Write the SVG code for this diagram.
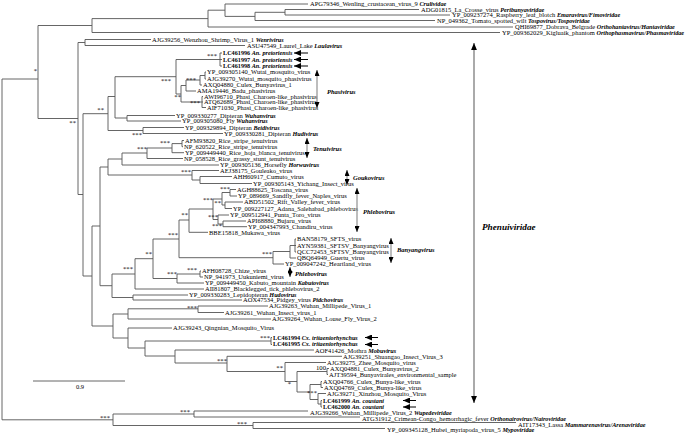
<svg xmlns="http://www.w3.org/2000/svg" width="685" height="434" viewBox="0 0 685 434">
<style>
text{font-family:"Liberation Serif","Times New Roman",serif;font-size:6.5px;fill:#000}
.gi{font-weight:bold;font-style:italic;font-size:6.2px}
.bd{font-weight:bold;font-size:6.2px}
.s{text-anchor:end;font-size:6.7px}
.b{fill:none;stroke:#555;stroke-width:0.9}
.ga{fill:none;stroke:#9a9a9a;stroke-width:1.3;marker-start:url(#ah);marker-end:url(#ah)}
.fa{fill:none;stroke:#aaa;stroke-width:2;marker-start:url(#ahb);marker-end:url(#ahb)}
.ta{fill:none;stroke:#000;stroke-width:1;marker-end:url(#tp)}
.gl{font-weight:bold;font-style:italic;font-size:6.5px}
.fl{font-weight:bold;font-style:italic;font-size:9.2px}
</style>
<defs>
<marker id="ah" viewBox="0 0 12 10" refX="12" refY="5" markerWidth="6" markerHeight="5" markerUnits="userSpaceOnUse" orient="auto-start-reverse"><path d="M0,0L12,5L0,10z" fill="#000"/></marker>
<marker id="ahb" viewBox="0 0 12 10" refX="12" refY="5" markerWidth="7" markerHeight="6" markerUnits="userSpaceOnUse" orient="auto-start-reverse"><path d="M0,0L12,5L0,10z" fill="#000"/></marker>
<marker id="tp" viewBox="0 0 14 12" refX="14" refY="6" markerWidth="7" markerHeight="6" markerUnits="userSpaceOnUse" orient="auto"><path d="M0,0L14,6L0,12z" fill="#000"/></marker>
</defs>
<g id="connectors" class="b">
<path d="M38,79H2V419.8H113"/>
<path d="M92,25.5H38V118.5H78"/>
<path d="M208,18.6H92V32.5H500"/>
<path d="M225,10.2H208V27H513"/>
<path d="M308,4H225V16.4H255"/>
<path d="M285,12.3H255V20.5H435"/>
<path d="M419,9.5H285V15H450"/>
<path d="M85,42.5H78V194.5H83"/>
<path d="M151,39.5H85V45.5H245"/>
<path d="M108,113.7H83V276H92"/>
<path d="M115,96.5H108V130.5H143"/>
<path d="M176,76.7H115V118H127"/>
<path d="M175,115.5H127V121H181"/>
<path d="M184,127.5H143V133.5H223"/>
<path d="M220,59.5H176V94H181"/>
<path d="M222,53H220V66H222M220,59.5H222"/>
<path d="M186,85.5H181V102H202"/>
<path d="M200,80H186V91H196"/>
<path d="M205,75.5H200V85H202"/>
<path d="M206,72H205V79H206"/>
<path d="M203,96.5H202V107.5H206M202,102H203"/>
<path d="M100,226H92V326H113"/>
<path d="M108,167H100V285.7H112"/>
<path d="M122,159H108V175H192"/>
<path d="M147,153H122V165H219"/>
<path d="M172,148H147V158.5H183"/>
<path d="M182,143.6H172V152.7H184"/>
<path d="M184,140.5H182V146.7H183"/>
<path d="M219,170.5H192V180H200"/>
<path d="M232,176.5H200V183.5H252"/>
<path d="M135,274H112V297.5H133"/>
<path d="M153,258.7H135V289H204"/>
<path d="M179,239H153V278.5H177"/>
<path d="M189,220H179V257.7H273"/>
<path d="M213,209H189V232.3H208"/>
<path d="M222,199H213V219.5H218"/>
<path d="M230,192.5H222V205H225"/>
<path d="M236,189.5H230V196H237"/>
<path d="M243,202H225V208.5H232"/>
<path d="M229,215H218V224H223"/>
<path d="M246,221H223V226.7H247"/>
<path d="M290,251.5H273V264H284"/>
<path d="M295,245.5H290V258H296"/>
<path d="M296,239H295V252H296M295,245.5H296"/>
<path d="M200,274H177V283H204"/>
<path d="M201,271H200V277H203"/>
<path d="M188,295H133V300H242"/>
<path d="M128,314H113V338H128"/>
<path d="M198,308.8H128V319H271"/>
<path d="M268,306H198V312.5H224"/>
<path d="M172,328H128V348H145"/>
<path d="M271,341H145V356H175"/>
<path d="M272,337.5H271V344.5H272"/>
<path d="M314,350H175V363H227"/>
<path d="M342,356.3H227V371.5H285"/>
<path d="M326,362.5H285V381.5H297"/>
<path d="M327,371.5H297V392H310"/>
<path d="M329,368.5H327V374.5H328"/>
<path d="M321,384.5H310V399.5H318"/>
<path d="M322,381.5H321V387.5H323"/>
<path d="M326,393.5H318V404H321"/>
<path d="M322,400.5H321V407H322"/>
<path d="M194,414H113V425.5H253"/>
<path d="M308,411H194V417H360"/>
<path d="M516,422.5H253V428.5H385"/>
<path d="M33,381H125"/>
</g>
<g id="support">
<text class="s" x="37" y="73.2">*</text>
<text class="s" x="76" y="125">**</text>
<text class="s" x="171" y="83">***</text>
<text class="s" x="217" y="58">***</text>
<text class="s" x="196" y="82">***</text>
<text class="s" x="181" y="99">**</text>
<text class="s" x="200" y="105">***</text>
<text class="s" x="104" y="112">**</text>
<text class="s" x="142" y="137">***</text>
<text class="s" x="147" y="151">***</text>
<text class="s" x="170" y="145">***</text>
<text class="s" x="191" y="174">***</text>
<text class="s" x="230" y="191">***</text>
<text class="s" x="213" y="202">***</text>
<text class="s" x="221" y="205">**</text>
<text class="s" x="188" y="217">**</text>
<text class="s" x="218" y="219">***</text>
<text class="s" x="222" y="228">***</text>
<text class="s" x="178" y="237">***</text>
<text class="s" x="152" y="256">**</text>
<text class="s" x="272" y="256">***</text>
<text class="s" x="197" y="272">***</text>
<text class="s" x="177" y="276">***</text>
<text class="s" x="133" y="271">***</text>
<text class="s" x="197" y="310">***</text>
<text class="s" x="270" y="340">***</text>
<text class="s" x="227" y="363">***</text>
<text class="s" x="283" y="370">**</text>
<text class="s" x="326" y="370.3">100</text>
<text class="s" x="291" y="386">*</text>
<text class="s" x="317" y="395">***</text>
<text class="s" x="190" y="414">***</text>
<text class="s" x="110" y="420">***</text>
<text class="s" x="247" y="426">***</text>
<text x="80" y="389" text-anchor="middle">0.9</text>
</g>
<g id="tips">
<g id="APG79346"><text x="310" y="6.3">APG79346_Wenling_crustacean_virus_9 <tspan class="gi">Crulividae</tspan></text></g>
<g id="ADG01815"><text x="421" y="11.8">ADG01815_La_Crosse_virus <tspan class="gi">Peribunyaviridae</tspan></text></g>
<g id="YP_009237274"><text x="452" y="17.3">YP_009237274_Raspberry_leaf_blotch <tspan class="gi">Emaravirus/Fimoviridae</tspan></text></g>
<g id="NP_049362"><text x="437" y="22.8">NP_049362_Tomato_spotted_wilt <tspan class="gi">Tospovirus/Tospoviridae</tspan></text></g>
<g id="QHI69877"><text x="515" y="29.3">QHI69877_Dobrava_Belgrade <tspan class="gi">Orthohantavirus/Hantaviridae</tspan></text></g>
<g id="YP_009362029"><text x="502" y="34.8">YP_009362029_Kigluaik_phantom <tspan class="gi">Orthophasmavirus/Phasmaviridae</tspan></text></g>
<g id="AJG39256"><text x="152" y="41.8">AJG39256_Wenzhou_Shrimp_Virus_1 <tspan class="gi">Wenrivirus</tspan></text></g>
<g id="ASU47549"><text x="247" y="47.8">ASU47549_Laurel_Lake <tspan class="gi">Laulavirus</tspan></text></g>
<g id="LC461996"><text x="223" y="55.3" class="bd">LC461996 <tspan class="gi">An. pretoriensis</tspan></text><path class="ta" d="M308,53H294"/></g>
<g id="LC461997"><text x="223" y="61.8" class="bd">LC461997 <tspan class="gi">An. pretoriensis</tspan></text><path class="ta" d="M308,59.5H294"/></g>
<g id="LC461998"><text x="223" y="68.3" class="bd">LC461998 <tspan class="gi">An. pretoriensis</tspan></text><path class="ta" d="M308,66H294"/></g>
<g id="YP_009305140"><text x="207" y="74.3">YP_009305140_Wutai_mosquito_virus</text></g>
<g id="AJG39270"><text x="207" y="81.3">AJG39270_Wutai_mosquito_phasivirus</text></g>
<g id="AXQ04880"><text x="203" y="87.3">AXQ04880_Culex_Bunyavirus_1</text></g>
<g id="AMA19446"><text x="197" y="93.3">AMA19446_Badu_phasivirus</text></g>
<g id="AWI96710"><text x="204" y="98.8">AWI96710_Phasi_Charoen-like_phasivirus</text></g>
<g id="ATQ62689"><text x="204" y="104.3">ATQ62689_Phasi_Charoen-like_phasivirus</text></g>
<g id="AIF71030"><text x="207" y="109.8">AIF71030_Phasi_Charoen-like_phasivirus</text></g>
<g id="YP_009330277"><text x="176" y="117.8">YP_009330277_Dipteran <tspan class="gi">Wuhanvirus</tspan></text></g>
<g id="YP_009305080"><text x="182" y="123.3">YP_009305080_Fly <tspan class="gi">Wuhanvirus</tspan></text></g>
<g id="YP_009329894"><text x="185" y="129.8">YP_009329894_Dipteran <tspan class="gi">Beidivirus</tspan></text></g>
<g id="YP_009330281"><text x="224" y="135.8">YP_009330281_Dipteran <tspan class="gi">Hudivirus</tspan></text></g>
<g id="AFM93820"><text x="185" y="142.8">AFM93820_Rice_stripe_tenuivirus</text></g>
<g id="NP_620522"><text x="184" y="149">NP_620522_Rice_stripe_tenuivirus</text></g>
<g id="YP_009449440"><text x="185" y="155">YP_009449440_Rice_hoja_blanca_tenuivirus</text></g>
<g id="NP_058528"><text x="184" y="160.8">NP_058528_Rice_grassy_stunt_tenuivirus</text></g>
<g id="YP_009305136"><text x="220" y="167.3">YP_009305136_Horsefly <tspan class="gi">Horwuvirus</tspan></text></g>
<g id="AEJ38175"><text x="220" y="172.8">AEJ38175_Gouleako_virus</text></g>
<g id="AHH60917"><text x="233" y="178.8">AHH60917_Cumuto_virus</text></g>
<g id="YP_009305143"><text x="253" y="185.8">YP_009305143_Yichang_Insect_virus</text></g>
<g id="AGH88625"><text x="237" y="191.8">AGH88625_Toscana_virus</text></g>
<g id="YP_089669"><text x="238" y="198.3">YP_089669_Sandfly_fever_Naples_virus</text></g>
<g id="ABD51502"><text x="244" y="204.3">ABD51502_Rift_Valley_fever_virus</text></g>
<g id="YP_009227127"><text x="233" y="210.8">YP_009227127_Adana_Salehabad_phlebovirus</text></g>
<g id="YP_009512941"><text x="230" y="217.3">YP_009512941_Punta_Toro_virus</text></g>
<g id="API68880"><text x="247" y="223.3">API68880_Bujaru_virus</text></g>
<g id="YP_004347993"><text x="248" y="228.9">YP_004347993_Chandiru_virus</text></g>
<g id="BBE15818"><text x="209" y="234.6">BBE15818_Mukawa_virus</text></g>
<g id="BAN58179"><text x="297" y="241.3">BAN58179_SFTS_virus</text></g>
<g id="AYN59381"><text x="297" y="247.8">AYN59381_SFTSV_Banyangvirus</text></g>
<g id="QCC72453"><text x="297" y="254.3">QCC72453_SFTSV_Banyangvirus</text></g>
<g id="QBQ64949"><text x="297" y="260.3">QBQ64949_Guertu_virus</text></g>
<g id="YP_009047242"><text x="285" y="266.3">YP_009047242_Heartland_virus</text></g>
<g id="AFH08728"><text x="202" y="273.3">AFH08728_Chize_virus</text></g>
<g id="NP_941973"><text x="204" y="279.3">NP_941973_Uukuniemi_virus</text></g>
<g id="YP_009449450"><text x="205" y="285.3">YP_009449450_Kabuto_mountain <tspan class="gi">Kabutovirus</tspan></text></g>
<g id="AII81807"><text x="205" y="291.3">AII81807_Blacklegged_tick_phlebovirus_2</text></g>
<g id="YP_009330283"><text x="189" y="297">YP_009330283_Lepidopteran <tspan class="gi">Hudovirus</tspan></text></g>
<g id="AOX47534"><text x="243" y="302.3">AOX47534_Pidgey_virus <tspan class="gi">Pidchovirus</tspan></text></g>
<g id="AJG39263"><text x="269" y="308.4">AJG39263_Wuhan_Millipede_Virus_1</text></g>
<g id="AJG39261"><text x="225" y="314.8">AJG39261_Wuhan_Insect_virus_1</text></g>
<g id="AJG39264"><text x="272" y="321.3">AJG39264_Wuhan_Louse_Fly_Virus_2</text></g>
<g id="AJG39243"><text x="173" y="330.3">AJG39243_Qingnian_Mosquito_Virus</text></g>
<g id="LC461994"><text x="273" y="339.8" class="bd">LC461994 <tspan class="gi">Cx. tritaeniorhynchus</tspan></text><path class="ta" d="M378,337.5H365"/></g>
<g id="LC461995"><text x="273" y="346.3" class="bd">LC461995 <tspan class="gi">Cx. tritaeniorhynchus</tspan></text><path class="ta" d="M378,344.5H365"/></g>
<g id="AOF41426"><text x="315" y="352.5">AOF41426_Mothra <tspan class="gi">Mobuvirus</tspan></text></g>
<g id="AJG39251"><text x="343" y="358.6">AJG39251_Shuangao_Insect_Virus_3</text></g>
<g id="AJG39275"><text x="327" y="364.8">AJG39275_Zhee_Mosquito_virus</text></g>
<g id="AXQ04881"><text x="330" y="370.8">AXQ04881_Culex_Bunyavirus_2</text></g>
<g id="AJT39594"><text x="329" y="376.8">AJT39594_Bunyavirales_environmental_sample</text></g>
<g id="AXQ04766"><text x="323" y="383.8">AXQ04766_Culex_Bunya-like_virus</text></g>
<g id="AXQ04769"><text x="324" y="389.8">AXQ04769_Culex_Bunya-like_virus</text></g>
<g id="AJG39271"><text x="327" y="395.8">AJG39271_Xinzhou_Mosquito_Virus</text></g>
<g id="LC461999"><text x="323" y="402.8" class="bd">LC461999 <tspan class="gi">An. coustani</tspan></text><path class="ta" d="M416,400.5H403"/></g>
<g id="LC462000"><text x="323" y="409.3" class="bd">LC462000 <tspan class="gi">An. coustani</tspan></text><path class="ta" d="M416,407H403"/></g>
<g id="AJG39266"><text x="310" y="415">AJG39266_Wuhan_Millipede_Virus_2 <tspan class="gi">Wupedeviridae</tspan></text></g>
<g id="ATG31912"><text x="362" y="421">ATG31912_Crimean-Congo_hemorrhagic_fever <tspan class="gi">Orthonairovirus/Nairoviridae</tspan></text></g>
<g id="AIT17343"><text x="518" y="427">AIT17343_Lassa <tspan class="gi">Mammarenavirus/Arenaviridae</tspan></text></g>
<g id="YP_009345128"><text x="387" y="432.3">YP_009345128_Hubei_myriapoda_virus_5 <tspan class="gi">Mypoviridae</tspan></text></g>
</g>
<g id="groups">
<g id="Phasivirus"><path class="ga" d="M317,70V108"/><text class="gl" x="327" y="94">Phasivirus</text></g>
<g id="Tenuivirus"><path class="ga" d="M307,138V158"/><text class="gl" x="313" y="151">Tenuivirus</text></g>
<g id="Goukovirus"><path class="ga" d="M347,170V185"/><text class="gl" x="353" y="180">Goukovirus</text></g>
<g id="Phlebovirus1"><path class="ga" d="M357,188V232"/><text class="gl" x="363" y="214">Phlebovirus</text></g>
<g id="Banyangvirus"><path class="ga" d="M391,238V263"/><text class="gl" x="397" y="252">Banyangvirus</text></g>
<g id="Phlebovirus2"><path class="ga" d="M290,267V277"/><text class="gl" x="295" y="276">Phlebovirus</text></g>
<g id="Phenuiviridae"><path class="fa" d="M474,43V403"/><text class="fl" x="482" y="230">Phenuiviridae</text></g>
</g>
</svg>
